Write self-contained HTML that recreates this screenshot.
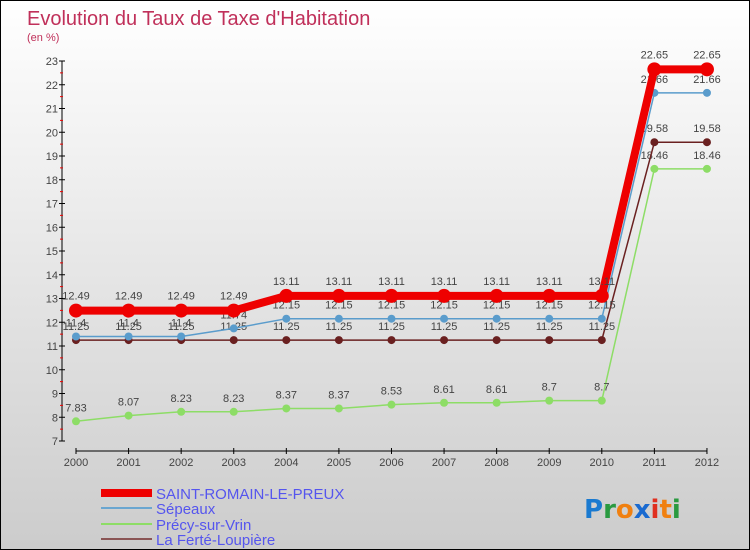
<!DOCTYPE html>
<html><head><meta charset="utf-8"><style>
body{margin:0}
#c{position:relative;width:748px;height:548px;border:1px solid #000;background:linear-gradient(#fff,#ccc);font-family:"Liberation Sans",sans-serif;overflow:hidden}
</style></head><body>
<div id="c">
<svg id="s" width="748" height="548">
<text x="26" y="24" font-size="20" fill="#c0305a">Evolution du Taux de Taxe d'Habitation</text>
<text x="26" y="40" font-size="11" fill="#c0305a">(en %)</text>
<g id="g"></g>
<g font-size="15" fill="#5555ee">
<rect x="100" y="488" width="51" height="8" fill="#e00"/>
<text x="155" y="498">SAINT-ROMAIN-LE-PREUX</text>
<rect x="100" y="506" width="51" height="2" fill="#6aa6d0"/>
<text x="155" y="513">Sépeaux</text>
<rect x="100" y="522" width="51" height="2" fill="#8ddd66"/>
<text x="155" y="529">Précy-sur-Vrin</text>
<rect x="100" y="537" width="51" height="2" fill="#8a5555"/>
<text x="155" y="544">La Ferté-Loupière</text>
</g>
<text x="583" y="517" font-size="26" font-family="DejaVu Sans" font-weight="bold"><tspan fill="#1a7ad0">P</tspan><tspan fill="#2a9a40">r</tspan><tspan fill="#f08010">o</tspan><tspan fill="#1a6ad0">x</tspan><tspan fill="#e03020">i</tspan><tspan fill="#f08010">t</tspan><tspan fill="#2a9a40">i</tspan></text>
</svg>
</div>
<script>
const years=[2000,2001,2002,2003,2004,2005,2006,2007,2008,2009,2010,2011,2012];
const saint=[12.49,12.49,12.49,12.49,13.11,13.11,13.11,13.11,13.11,13.11,13.11,22.65,22.65];
const sepeaux=[11.4,11.4,11.4,11.74,12.15,12.15,12.15,12.15,12.15,12.15,12.15,21.66,21.66];
const precy=[7.83,8.07,8.23,8.23,8.37,8.37,8.53,8.61,8.61,8.7,8.7,18.46,18.46];
const ferte=[11.25,11.25,11.25,11.25,11.25,11.25,11.25,11.25,11.25,11.25,11.25,19.58,19.58];
const yTicks=[7,8,9,10,11,12,13,14,15,16,17,18,19,20,21,22,23];
const NS="http://www.w3.org/2000/svg",g=document.getElementById('g');
const X=i=>75+i*52.58, Y=v=>440-(v-7)*23.75;
function el(t,a,p){const e=document.createElementNS(NS,t);for(const k in a)e.setAttribute(k,a[k]);(p||g).appendChild(e);return e;}
let e=el('line',{x1:61,y1:60,x2:61,y2:440,stroke:'#000'});


e=el('line',{x1:75,y1:450,x2:X(12),y2:450,stroke:'#000'});


yTicks.forEach(v=>{
 el('line',{x1:58,y1:Y(v),x2:64,y2:Y(v),stroke:'#000'});
 if(v<23) el('line',{x1:59,y1:Y(v+0.5),x2:62,y2:Y(v+0.5),stroke:'#e00'});
 const t=el('text',{x:57,y:Y(v)+4,'font-size':11,fill:'#444','text-anchor':'end'});t.textContent=v;
 
 
});
years.forEach((y,i)=>{
 el('line',{x1:X(i),y1:447,x2:X(i),y2:453,stroke:'#000'});
 const t=el('text',{x:X(i),y:465,'font-size':11,fill:'#444','text-anchor':'middle'});t.textContent=y;
 
 
});
function series(d,col,w,r,name,dy){
 const p=el('polyline',{points:d.map((v,i)=>X(i)+','+Y(v)).join(' '),fill:'none',stroke:col,'stroke-width':w});
 
 
 d.forEach((v,i)=>{
  const c=el('circle',{cx:X(i),cy:Y(v),r:r,fill:col});
  
  
  const t=el('text',{x:X(i),y:Y(v)+dy,'font-size':11,fill:'#444','text-anchor':'middle'});t.textContent=v;
  
  
 });
}
series(precy,'#8ddd66',1.5,4,'precy',-10);
series(ferte,'#6a2020',1.5,4,'ferte',-10);
series(sepeaux,'#5a9ccc',1.5,4,'sepeaux',-10);
series(saint,'#e00',8,7,'saint-romain',-11);
</script>
</body></html>
